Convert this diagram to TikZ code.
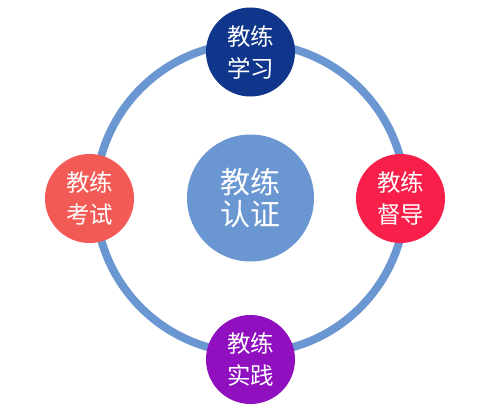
\documentclass[tikz,border=0pt]{standalone}
\usepackage{fontspec}
\newfontfamily\cjk{Noto Sans CJK SC}
\definecolor{ringblue}{HTML}{6A96D2}
\definecolor{studyblue}{HTML}{10368C}
\definecolor{examred}{HTML}{F25A55}
\definecolor{superred}{HTML}{F8204A}
\definecolor{practpurple}{HTML}{9010C0}
\tikzset{
  stage/.style={circle, inner sep=0pt, minimum size=89pt, text=white, align=center,
    font=\cjk\fontsize{23.5}{32}\selectfont},
  hub/.style={circle, inner sep=0pt, minimum size=127pt, fill=ringblue, text=white, align=center,
    font=\cjk\fontsize{30}{31.5}\selectfont},
  ring/.style={draw=ringblue, line width=8pt}
}
\begin{document}
\begin{tikzpicture}[x=1pt, y=-1pt]
    \def\cx{250.5}
    \def\cy{198}
    \def\r{155}
    \useasboundingbox (0,0) rectangle (500,412);

    % the ring round the hub
    \draw[ring] (\cx, \cy) circle (\r);

    % hub in the middle
    \node[hub] (cert) at (\cx, \cy) {教练\\认证};

    % the four stages on the ring
    \node[stage, fill=studyblue] (study) at (\cx, 52) {教练\\学习};
    \node[stage, fill=examred] (exam) at (89.5, \cy + 0.5) {教练\\考试};
    \node[stage, fill=superred] (super) at (400.5, \cy + 0.5) {教练\\督导};
    \node[stage, fill=practpurple] (practice) at (\cx, 359.5) {教练\\实践};
\end{tikzpicture}
\end{document}
